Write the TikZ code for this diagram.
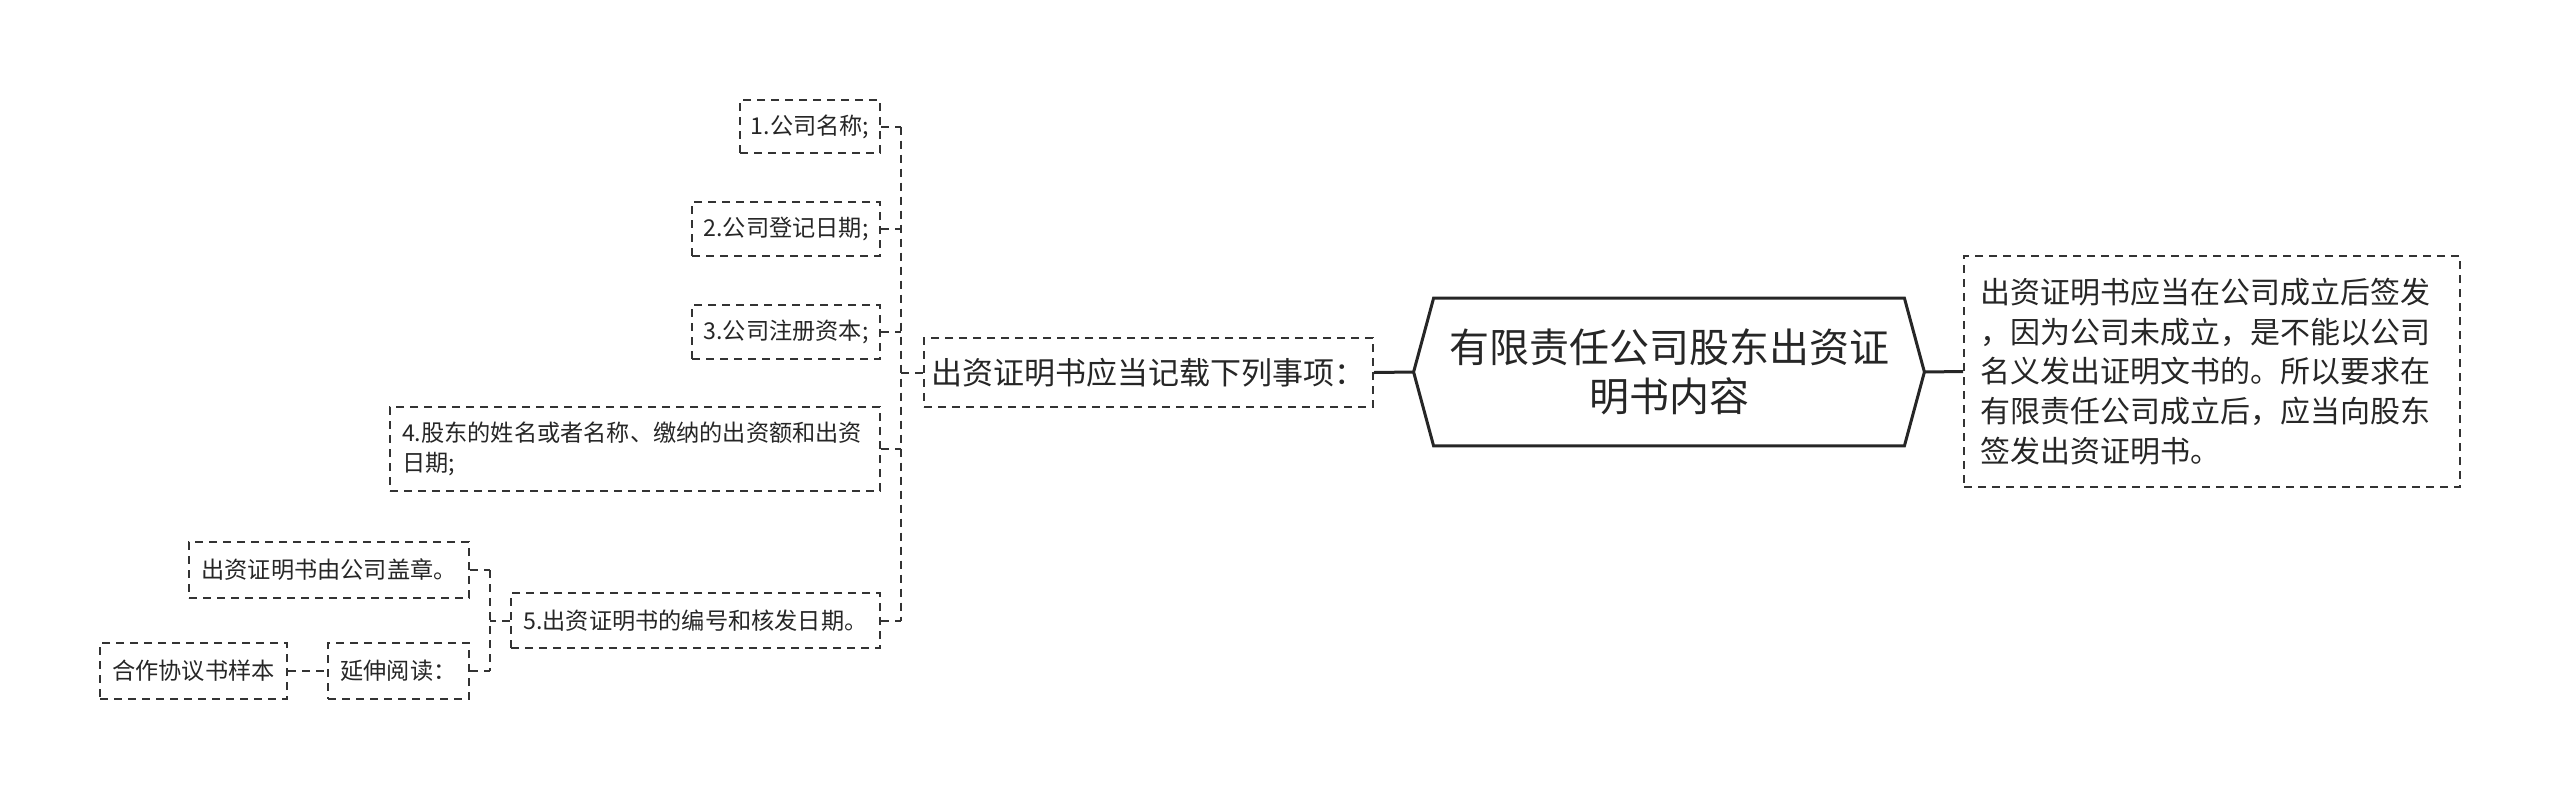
\documentclass[tikz,border=0pt]{standalone}
\usepackage{fontspec}
\setmainfont{Noto Sans CJK SC}
\begin{document}
\begin{tikzpicture}[x=0.5pt,y=-0.5pt,
  box/.style={draw=black!80, line width=1pt, dash pattern=on 4pt off 3pt, inner sep=0pt, align=center, text=black!85, font=\fontsize{11.6}{14.7}\selectfont},
  conn/.style={draw=black!80, line width=1pt, dash pattern=on 4pt off 3pt},
  solidconn/.style={draw=black!85, line width=1.5pt}]
\useasboundingbox (0,0) rectangle (2560,798);

% root
\node[font=\fontsize{20}{24.5}\selectfont, align=center, text=black!85, minimum width=235pt, minimum height=73.5pt, inner sep=0pt] (root) at (1669,372) {有限责任公司股东出资证\\明书内容};
\coordinate (rootL) at ([xshift=-10pt]root.west);
\coordinate (rootR) at ([xshift=10pt]root.east);
\draw[solidconn] (rootL) -- (root.north west) -- (root.north east) -- (rootR) -- (root.south east) -- (root.south west) -- cycle;

% right box
\node[box, font=\fontsize{15}{19.85}\selectfont, align=left, text width=232pt, minimum width=248pt, minimum height=115.5pt] (right) at (2212,371.5)
 {出资证明书应当在公司成立后签发\\，因为公司未成立，是不能以公司\\名义发出证明文书的。所以要求在\\有限责任公司成立后，应当向股东\\签发出资证明书。};

% middle box
\node[box, font=\fontsize{15.5}{19}\selectfont, minimum width=224.5pt, minimum height=34.5pt] (mid) at (1148.5,372.5) {出资证明书应当记载下列事项：};

% items
\node[box, minimum width=70pt, minimum height=26.5pt] (i1) at (810,126.5) {1.公司名称;};
\node[box, minimum width=94pt, minimum height=27pt] (i2) at (786,229) {2.公司登记日期;};
\node[box, minimum width=94pt, minimum height=27pt] (i3) at (786,332) {3.公司注册资本;};
\node[box, align=left, text width=233pt, minimum width=245pt, minimum height=42pt] (i4) at (635,449) {4.股东的姓名或者名称、缴纳的出资额和出资\\日期;};
\node[box, minimum width=184.5pt, minimum height=27.5pt] (i5) at (695.5,620.5) {5.出资证明书的编号和核发日期。};

\node[box, minimum width=140pt, minimum height=28pt] (c1) at (329,570) {出资证明书由公司盖章。};
\node[box, minimum width=70.5pt, minimum height=28pt] (c2) at (398.5,671) {延伸阅读：};
\node[box, minimum width=93.5pt, minimum height=28pt] (g) at (193.5,671) {合作协议书样本};

% connectors root
\draw[solidconn] (rootL) -- (mid.east);
\draw[solidconn] (rootR) -- (right.west);

% hub for items
\coordinate (hm) at (901,372.5);
\coordinate (h1) at (901,126.5);
\coordinate (h2) at (901,229);
\coordinate (h3) at (901,332);
\coordinate (h4) at (901,449);
\coordinate (h5) at (901,620.5);
\draw[conn] (mid.west) -- (hm);
\draw[conn] (h1) -- (h5);
\draw[conn] (i1.east) -- (h1);
\draw[conn] (i2.east) -- (h2);
\draw[conn] (i3.east) -- (h3);
\draw[conn] (i4.east) -- (h4);
\draw[conn] (i5.east) -- (h5);

% hub for item 5 children
\coordinate (k5) at (490,620.5);
\coordinate (k1) at (490,570);
\coordinate (k2) at (490,671);
\draw[conn] (i5.west) -- (k5);
\draw[conn] (k1) -- (k2);
\draw[conn] (c1.east) -- (k1);
\draw[conn] (c2.east) -- (k2);
\draw[conn] (g.east) -- (c2.west);
\end{tikzpicture}
\end{document}
